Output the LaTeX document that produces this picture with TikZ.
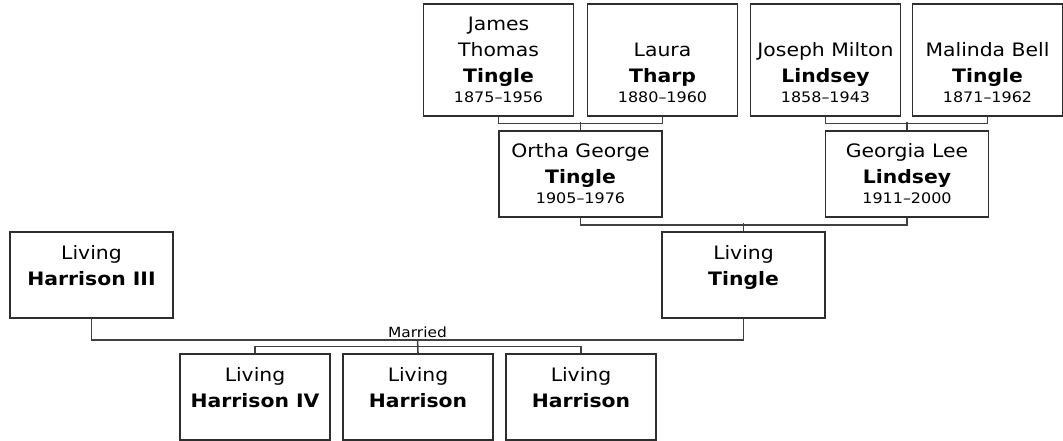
\documentclass[tikz,border=0pt]{standalone}
\usepackage{fontspec}
\setmainfont[FakeStretch=1.1]{DejaVu Sans}
\usepackage{tikz}
\usetikzlibrary{positioning,calc}
\newcommand{\lifespan}[1]{\\[-6pt]{\fontsize{14.5}{20}\selectfont #1}}
\newcommand{\nolife}{\\[-6pt]{\fontsize{14.5}{20}\selectfont\vphantom{1}}}
\tikzset{
  blk/.style    = {draw=black!82, line width=1.4pt, align=center, inner sep=0pt,
                   font=\fontsize{18.5}{26}\selectfont},
  elder/.style  = {blk, minimum width=150pt, minimum height=112pt},
  person/.style = {blk, minimum width=163pt, minimum height=86pt},
  kid/.style    = {blk, minimum width=150pt, minimum height=86pt},
  link/.style   = {draw=black!75, line width=1.6pt},
  lbl/.style    = {font=\fontsize{14}{16}\selectfont, inner sep=1.5pt},
}
\begin{document}
\begin{tikzpicture}[x=1pt, y=-1pt]
\useasboundingbox (0,0) rectangle (1063,441);

\node[elder] (james) at (498.5,60)
     {James\\Thomas\\\textbf{Tingle}\lifespan{1875–1956}};
\node[elder] (laura) at (662.5,60)
     {\vphantom{J}\\Laura\\\textbf{Tharp}\lifespan{1880–1960}};
\node[elder] (joseph) at (825.5,60)
     {\vphantom{J}\\Joseph Milton\\\textbf{Lindsey}\lifespan{1858–1943}};
\node[elder] (malinda) at (987.5,60)
     {\vphantom{J}\\Malinda Bell\\\textbf{Tingle}\lifespan{1871–1962}};

\node[person] (ortha) at (580.5,174)
     {Ortha George\\\textbf{Tingle}\lifespan{1905–1976}};
\node[person] (georgia) at (907,174)
     {Georgia Lee\\\textbf{Lindsey}\lifespan{1911–2000}};

\node[person] (tingle) at (743.5,275) {Living\\\textbf{Tingle}\nolife};
\node[person] (harr3) at (91.5,275) {Living\\\textbf{Harrison III}\nolife};

\node[kid] (kid1) at (255,397) {Living\\\textbf{Harrison IV}\nolife};
\node[kid] (kid2) at (418,397) {Living\\\textbf{Harrison}\nolife};
\node[kid] (kid3) at (581,397) {Living\\\textbf{Harrison}\nolife};

\draw[link] (james.south) -- ++(0,7) -| (laura.south);
\draw[link] (ortha.north) -- ++(0,-8);
\draw[link] (joseph.south) -- ++(0,7) -| (malinda.south);
\draw[link] (georgia.north) -- ++(0,-8);
\draw[link] (ortha.south) -- ++(0,7) -| (georgia.south);
\draw[link] (tingle.north) -- ++(0,-8);
\draw[link] (harr3.south) -- ++(0,21) -| (tingle.south)
      node[lbl, pos=0.25, above] {Married} coordinate[pos=0.25] (wed);
\draw[link] (kid1.north) -- ++(0,-7) -| (kid3.north);
\draw[link] (wed) -- (kid2.north);
\end{tikzpicture}
\end{document}
